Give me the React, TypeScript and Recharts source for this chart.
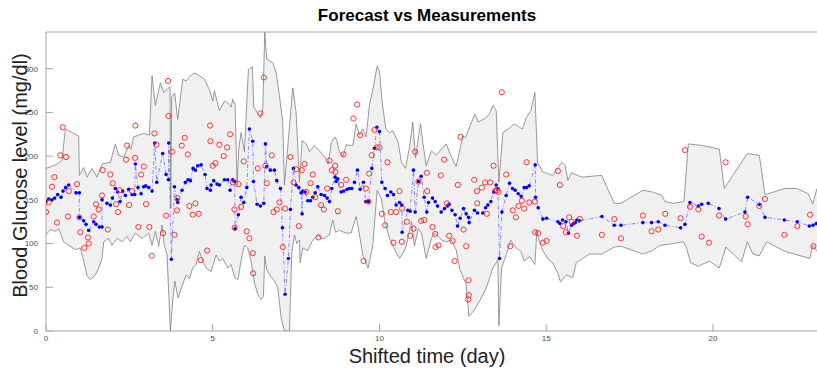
import { Area, ComposedChart, Line, XAxis, YAxis } from 'recharts';

// Forecast vs measured blood glucose, days on x, mg/dl on y.
const xTicks = [0, 5, 10, 15, 20];
const yTicks = [0, 50, 100, 150, 200, 250, 300];

const upperBound: [number, number][] = [
  [0, 186], [0.22, 189], [0.33, 191], [0.48, 195], [0.58, 231], [0.98, 223], [1.0, 178], [1.13, 187],
  [1.23, 176], [1.38, 186], [1.53, 176], [1.68, 191], [1.93, 193], [2.08, 214], [2.18, 201], [2.33, 199],
  [2.48, 212], [2.55, 208], [2.63, 222], [2.78, 224], [2.93, 226], [3.1, 224], [3.18, 292], [3.28, 258],
  [3.43, 284], [3.53, 273], [3.65, 277], [3.72, 279], [3.74, 140], [3.77, 268], [3.86, 272], [3.95, 242],
  [4.1, 288], [4.2, 286], [4.36, 293], [4.46, 295], [4.6, 292], [4.75, 288], [4.9, 276], [5.0, 263],
  [5.05, 275], [5.2, 252], [5.35, 263], [5.45, 261], [5.55, 256], [5.6, 265], [5.67, 259], [5.73, 167],
  [5.78, 208], [5.85, 227], [5.95, 205], [6.07, 299], [6.19, 302], [6.23, 256], [6.33, 250], [6.43, 244],
  [6.5, 254], [6.56, 342], [6.62, 311], [6.8, 307], [6.9, 296], [7.0, 269], [7.1, 239], [7.15, 167],
  [7.27, 220], [7.4, 278], [7.5, 250], [7.6, 170], [7.68, 218], [7.8, 214], [7.9, 205], [8.05, 212],
  [8.2, 206], [8.36, 199], [8.46, 191], [8.56, 216], [8.66, 222], [8.72, 218], [8.8, 205], [8.9, 199],
  [9.0, 213], [9.2, 212], [9.3, 237], [9.4, 224], [9.5, 231], [9.6, 222], [9.7, 259], [9.8, 276],
  [9.93, 303], [10.0, 297], [10.08, 262], [10.19, 231], [10.3, 227], [10.4, 229], [10.56, 216], [10.66, 193],
  [10.78, 186], [10.9, 210], [11.0, 239], [11.08, 198], [11.23, 237], [11.3, 216], [11.4, 189], [11.56, 206],
  [11.7, 201], [11.86, 208], [12.0, 214], [12.16, 199], [12.3, 188], [12.5, 223], [12.58, 221], [12.7, 233],
  [12.86, 248], [12.96, 239], [13.16, 243], [13.3, 248], [13.4, 258], [13.5, 252], [13.58, 170], [13.7, 227],
  [13.86, 231], [14.04, 237], [14.2, 233], [14.29, 231], [14.4, 244], [14.54, 252], [14.66, 273], [14.74, 193],
  [14.9, 182], [15.04, 180], [15.19, 178], [15.34, 186], [15.47, 193], [15.57, 189], [15.65, 172], [15.76, 181],
  [16.06, 176], [16.66, 178], [17.04, 146], [17.24, 146], [17.9, 161], [18.19, 159], [18.47, 155], [18.56, 148],
  [18.81, 146], [19.13, 148], [19.26, 214], [19.71, 212], [20.19, 208], [20.34, 163], [21.03, 203], [21.39, 201],
  [21.56, 156], [22.16, 163], [22.52, 163], [22.86, 157], [22.99, 145], [23.12, 163],
];

const lowerBound: [number, number][] = [
  [0, 110], [0.13, 116], [0.28, 114], [0.38, 117], [0.53, 102], [0.68, 98], [0.88, 93], [1.03, 95],
  [1.13, 80], [1.23, 63], [1.33, 59], [1.48, 64], [1.58, 72], [1.68, 83], [1.73, 102], [1.88, 106],
  [1.98, 98], [2.13, 106], [2.28, 102], [2.43, 108], [2.53, 102], [2.68, 112], [2.88, 106], [3.08, 112],
  [3.18, 98], [3.28, 114], [3.38, 97], [3.48, 121], [3.55, 98], [3.63, 87], [3.73, 0], [3.79, 30],
  [3.86, 57], [3.96, 38], [4.06, 49], [4.2, 64], [4.3, 60], [4.4, 72], [4.5, 76], [4.6, 91],
  [4.7, 80], [4.8, 72], [4.95, 68], [5.1, 87], [5.2, 80], [5.3, 83], [5.45, 72], [5.55, 76],
  [5.66, 61], [5.76, 59], [5.86, 83], [5.95, 98], [6.05, 95], [6.15, 80], [6.25, 55], [6.35, 42],
  [6.45, 36], [6.52, 40], [6.56, 86], [6.62, 70], [6.75, 62], [6.85, 57], [6.95, 50], [7.05, 15],
  [7.15, 0], [7.3, 0], [7.37, 89], [7.45, 110], [7.52, 100], [7.6, 104], [7.62, 78], [7.7, 95],
  [7.85, 92], [8.0, 104], [8.16, 110], [8.25, 106], [8.36, 106], [8.5, 110], [8.6, 127], [8.68, 113],
  [8.8, 115], [9.0, 112], [9.15, 112], [9.3, 131], [9.4, 110], [9.5, 87], [9.66, 72], [9.8, 98],
  [9.93, 161], [10.06, 151], [10.16, 125], [10.3, 106], [10.46, 93], [10.6, 83], [10.7, 89], [10.8, 97],
  [10.96, 125], [11.05, 97], [11.16, 117], [11.26, 112], [11.4, 83], [11.56, 106], [11.66, 112], [11.86, 104],
  [12.0, 102], [12.15, 104], [12.3, 93], [12.4, 72], [12.6, 53], [12.68, 17], [12.8, 22], [13.0, 34],
  [13.2, 49], [13.4, 72], [13.55, 81], [13.58, 6], [13.66, 72], [13.8, 87], [13.93, 104], [14.1, 95],
  [14.24, 91], [14.34, 80], [14.5, 85], [14.66, 76], [14.72, 114], [14.79, 102], [14.9, 92], [15.04, 83],
  [15.19, 78], [15.35, 66], [15.43, 56], [15.6, 64], [15.8, 61], [15.9, 78], [16.3, 88], [16.67, 88],
  [17.04, 96], [17.24, 97], [17.9, 88], [18.19, 92], [18.41, 98], [18.81, 100], [19.11, 102], [19.2, 96],
  [19.33, 78], [19.56, 74], [19.89, 80], [20.19, 72], [20.39, 96], [20.86, 79], [21.03, 102], [21.2, 88],
  [21.39, 86], [21.61, 102], [22.16, 91], [22.91, 83], [22.99, 98], [23.12, 91],
];

const forecast: [number, number][] = [
  [0, 148], [0.08, 151], [0.18, 150], [0.26, 152], [0.35, 156], [0.45, 153], [0.51, 160], [0.59, 164],
  [0.68, 167], [0.9, 158], [1.0, 158], [1.0, 130], [1.13, 126], [1.2, 122], [1.28, 115], [1.43, 125],
  [1.5, 122], [1.6, 119], [1.68, 119], [1.68, 150], [1.83, 146], [1.93, 144], [1.99, 152], [2.08, 163],
  [2.15, 159], [2.22, 148], [2.3, 160], [2.38, 155], [2.48, 162], [2.58, 156], [2.66, 156], [2.68, 191],
  [2.76, 164], [2.85, 157], [2.93, 165], [2.99, 166], [3.08, 164], [3.18, 160], [3.26, 215], [3.32, 170],
  [3.5, 203], [3.6, 179], [3.67, 173], [3.68, 215], [3.76, 82], [3.85, 165], [3.93, 150], [3.95, 147],
  [4.08, 161], [4.18, 170], [4.26, 173], [4.33, 172], [4.41, 186], [4.48, 184], [4.55, 189], [4.65, 190],
  [4.77, 179], [4.83, 163], [4.93, 161], [4.95, 167], [5.03, 172], [5.13, 168], [5.2, 167], [5.35, 173],
  [5.45, 173], [5.52, 161], [5.6, 173], [5.66, 171], [5.67, 117], [5.77, 133], [5.85, 153], [5.93, 147],
  [6.02, 164], [6.1, 231], [6.2, 217], [6.22, 171], [6.33, 145], [6.43, 143], [6.53, 146], [6.58, 214],
  [6.62, 188], [6.73, 184], [6.85, 184], [6.92, 172], [7.03, 163], [7.09, 118], [7.17, 42], [7.27, 83],
  [7.33, 139], [7.42, 186], [7.5, 167], [7.58, 164], [7.65, 158], [7.68, 134], [7.7, 160], [7.77, 159],
  [7.85, 149], [7.93, 149], [8.0, 153], [8.07, 158], [8.15, 165], [8.25, 156], [8.35, 155], [8.43, 152],
  [8.5, 148], [8.57, 163], [8.67, 176], [8.7, 171], [8.75, 174], [8.85, 159], [8.93, 160], [9.03, 162],
  [9.1, 163], [9.17, 163], [9.25, 170], [9.34, 184], [9.42, 162], [9.52, 170], [9.59, 148], [9.67, 148],
  [9.77, 186], [9.85, 209], [9.92, 233], [10.0, 228], [10.07, 170], [10.17, 163], [10.24, 155], [10.34, 159],
  [10.42, 156], [10.5, 144], [10.6, 147], [10.67, 144], [10.68, 113], [10.85, 138], [10.92, 137], [11.02, 184],
  [11.07, 136], [11.17, 171], [11.25, 177], [11.34, 153], [11.42, 136], [11.47, 147], [11.59, 152], [11.67, 148],
  [11.74, 143], [11.85, 136], [11.95, 140], [12.04, 143], [12.09, 145], [12.17, 138], [12.27, 133], [12.34, 120],
  [12.42, 129], [12.52, 140], [12.6, 134], [12.67, 130], [12.69, 124], [12.85, 138], [12.94, 135], [13.1, 135],
  [13.18, 141], [13.25, 144], [13.34, 148], [13.42, 159], [13.5, 167], [13.55, 163], [13.6, 83], [13.67, 136],
  [13.8, 155], [13.9, 169], [13.99, 163], [14.07, 161], [14.16, 157], [14.25, 154], [14.34, 164], [14.41, 164],
  [14.49, 166], [14.67, 190], [14.68, 153], [14.76, 141], [14.9, 128], [15.01, 129], [15.35, 125], [15.41, 123],
  [15.49, 127], [15.59, 125], [15.67, 112], [15.76, 121], [15.82, 123], [15.87, 124], [15.92, 127], [15.99, 126],
  [16.67, 131], [17.04, 121], [17.24, 121], [17.9, 124], [18.16, 124], [18.36, 125], [18.56, 121], [19.03, 118],
  [19.16, 122], [19.31, 147], [19.56, 143], [19.66, 145], [19.86, 146], [20.18, 140], [20.38, 128], [20.96, 136],
  [21.04, 153], [21.39, 145], [21.56, 130], [22.14, 127], [22.53, 125], [22.89, 120], [23.0, 121], [23.1, 123],
];

const measured: [number, number][] = [
  [0, 136], [0.08, 147], [0.18, 165], [0.25, 176], [0.33, 124], [0.43, 201], [0.5, 233], [0.6, 199],
  [0.66, 131], [0.68, 160], [0.93, 168], [1.0, 130], [1.03, 113], [1.15, 95], [1.26, 107], [1.28, 100],
  [1.43, 131], [1.5, 145], [1.58, 139], [1.68, 155], [1.7, 184], [1.85, 116], [1.93, 179], [2.0, 169],
  [2.1, 145], [2.16, 136], [2.21, 161], [2.4, 196], [2.43, 212], [2.49, 144], [2.58, 160], [2.67, 198],
  [2.68, 235], [2.77, 119], [2.85, 179], [2.93, 188], [3.0, 145], [3.1, 119], [3.17, 86], [3.25, 226],
  [3.31, 213], [3.51, 112], [3.6, 132], [3.66, 286], [3.67, 246], [3.78, 205], [3.85, 110], [3.93, 138],
  [3.94, 152], [4.07, 212], [4.16, 221], [4.25, 202], [4.3, 143], [4.4, 133], [4.48, 146], [4.58, 134],
  [4.64, 81], [4.83, 92], [4.92, 235], [4.93, 217], [5.0, 189], [5.08, 192], [5.2, 213], [5.33, 200],
  [5.43, 210], [5.52, 225], [5.6, 170], [5.65, 139], [5.66, 118], [5.77, 168], [5.85, 142], [5.93, 194],
  [6.02, 114], [6.1, 106], [6.2, 89], [6.21, 66], [6.35, 186], [6.43, 249], [6.53, 290], [6.58, 189],
  [6.62, 169], [6.77, 201], [6.82, 136], [6.92, 139], [7.0, 147], [7.1, 96], [7.17, 140], [7.33, 199],
  [7.42, 170], [7.5, 185], [7.58, 120], [7.67, 184], [7.75, 191], [7.8, 159], [7.93, 169], [8.0, 179],
  [8.07, 153], [8.17, 107], [8.25, 144], [8.33, 139], [8.43, 163], [8.5, 195], [8.57, 184], [8.67, 189],
  [8.68, 182], [8.75, 137], [8.85, 167], [8.92, 202], [9.0, 173], [9.22, 243], [9.33, 259], [9.42, 224],
  [9.52, 80], [9.59, 163], [9.67, 148], [9.69, 180], [9.77, 201], [9.85, 230], [9.92, 210], [10.0, 210],
  [10.07, 134], [10.17, 121], [10.24, 193], [10.34, 136], [10.42, 101], [10.5, 136], [10.6, 160], [10.67, 102],
  [10.68, 140], [10.82, 125], [10.92, 109], [11.02, 117], [11.07, 205], [11.17, 171], [11.25, 126], [11.34, 127],
  [11.42, 181], [11.43, 160], [11.59, 119], [11.67, 111], [11.68, 96], [11.77, 98], [11.84, 178], [11.94, 196],
  [12.02, 146], [12.09, 109], [12.19, 103], [12.25, 80], [12.35, 167], [12.43, 222], [12.52, 116], [12.6, 97],
  [12.67, 58], [12.68, 41], [12.66, 36], [12.84, 173], [12.92, 160], [12.93, 146], [13.07, 164], [13.17, 170],
  [13.22, 134], [13.32, 170], [13.42, 189], [13.47, 160], [13.52, 161], [13.57, 159], [13.67, 273], [13.8, 179],
  [13.92, 97], [14.0, 138], [14.09, 130], [14.17, 143], [14.27, 149], [14.34, 140], [14.41, 193], [14.49, 147],
  [14.66, 148], [14.67, 113], [14.76, 112], [14.9, 101], [15.01, 103], [15.35, 183], [15.41, 167], [15.51, 120],
  [15.59, 113], [15.69, 130], [15.77, 125], [15.92, 109], [16.01, 128], [16.67, 110], [17.04, 128], [17.24, 106],
  [17.9, 132], [18.16, 114], [18.36, 116], [18.57, 134], [19.03, 129], [19.16, 207], [19.31, 142], [19.56, 139],
  [19.66, 108], [19.88, 101], [20.18, 132], [20.38, 193], [20.98, 131], [21.04, 122], [21.39, 143], [21.56, 151],
  [22.14, 110], [22.53, 120], [22.91, 133], [23.01, 97],
];

const rows = (pts: [number, number][]) => pts.map(([t, v]) => ({ t, v }));

const font = '"Liberation Sans", Arial, Helvetica, sans-serif';
const axisGray = '#a6a6a6';
const tickStyle = { fontSize: 8, fill: '#4d4d4d', fontFamily: font };

export default function App() {
  return (
    <div style={{ position: 'absolute', left: 0, top: 0, width: 817, height: 368, background: '#fff', fontFamily: font }}>
      <ComposedChart width={817} height={368} margin={{ top: 31, right: 0, bottom: 0, left: 0 }}>
        <Area data={rows(upperBound)} dataKey="v" xAxisId="b" type="linear" stroke="none"
          fill="#f0f0f0" fillOpacity={1} dot={false} activeDot={false} isAnimationActive={false} />
        <Area data={rows(lowerBound)} dataKey="v" xAxisId="b" type="linear" stroke="none"
          fill="#ffffff" fillOpacity={1} dot={false} activeDot={false} isAnimationActive={false} />
        <Line data={rows(upperBound)} dataKey="v" xAxisId="b" type="linear" stroke="#808080"
          strokeWidth={0.8} dot={false} activeDot={false} isAnimationActive={false} />
        <Line data={rows(lowerBound)} dataKey="v" xAxisId="b" type="linear" stroke="#808080"
          strokeWidth={0.8} dot={false} activeDot={false} isAnimationActive={false} />
        <Line data={rows(forecast)} dataKey="v" xAxisId="b" type="linear" stroke="#5a5aff"
          strokeWidth={0.7} strokeDasharray="4 2 1 2"
          dot={{ r: 1.8, fill: '#0000ff', stroke: 'none', strokeDasharray: '' }}
          activeDot={false} isAnimationActive={false} />
        <Line data={rows(measured)} dataKey="v" xAxisId="b" type="linear" stroke="none"
          dot={{ r: 2.6, fill: 'none', stroke: '#ff2020', strokeWidth: 0.9 }}
          activeDot={false} isAnimationActive={false} />
        <XAxis xAxisId="b" dataKey="t" type="number" domain={[0, 23.12]} ticks={xTicks}
          allowDataOverflow height={37} tickSize={-7} tickMargin={11} stroke={axisGray}
          tick={tickStyle} />
        <XAxis xAxisId="top" orientation="top" dataKey="t" type="number" domain={[0, 23.12]}
          ticks={xTicks} allowDataOverflow height={1} tickSize={-7} tick={false} stroke={axisGray} />
        <YAxis type="number" domain={[0, 342]} ticks={yTicks} allowDataOverflow width={46}
          tickSize={-7} tickMargin={15} stroke={axisGray} tick={tickStyle} />
      </ComposedChart>
      <div style={{ position: 'absolute', left: 46, width: 762, top: 6, textAlign: 'center',
        fontSize: 17, fontWeight: 'bold', color: '#000' }}>
        Forecast vs Measurements
      </div>
      <div style={{ position: 'absolute', left: 46, width: 762, top: 346, textAlign: 'center',
        fontSize: 20, lineHeight: '20px', color: '#222' }}>
        Shifted time (day)
      </div>
      <div style={{ position: 'absolute', left: 20, top: 176, width: 0, height: 0 }}>
        <div style={{ position: 'absolute', left: -150, top: -12, width: 300, textAlign: 'center',
          transform: 'rotate(-90deg)', fontSize: 20, color: '#222', whiteSpace: 'nowrap' }}>
          Blood Glucose level (mg/dl)
        </div>
      </div>
    </div>
  );
}
